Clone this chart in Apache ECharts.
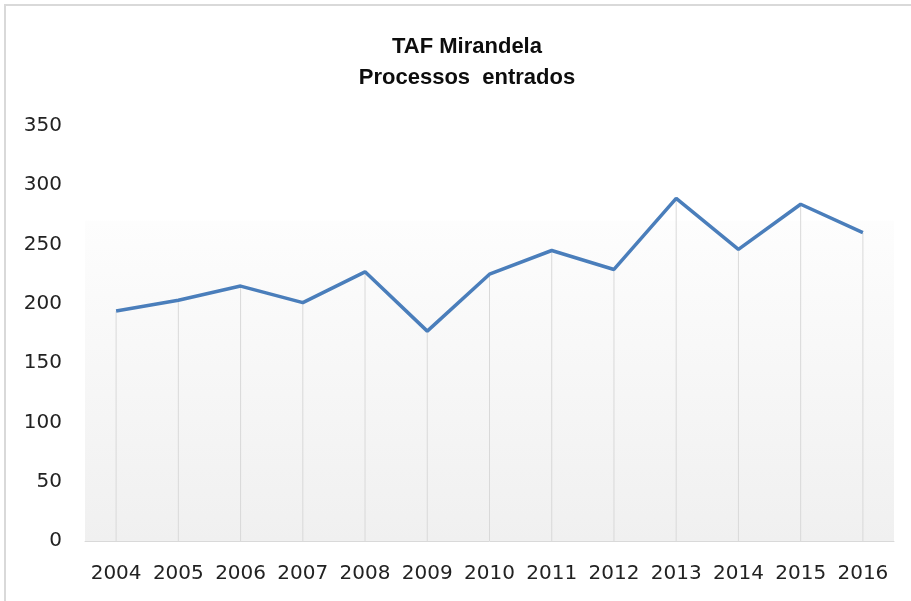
<!DOCTYPE html>
<html>
<head>
<meta charset="utf-8">
<script src="https://cdn.jsdelivr.net/npm/echarts@6/dist/echarts.min.js"></script>
<style>html,body{margin:0;padding:0;background:#fff}#c{width:911px;height:601px}</style>
</head>
<body>
<div id="c"></div>
<script>
var years = ['2004','2005','2006','2007','2008','2009','2010','2011','2012','2013','2014','2015','2016'];
var processos = [194, 203, 215, 201, 227, 177, 225, 245, 229, 289, 246, 284, 260];
var yTicks = [0, 50, 100, 150, 200, 250, 300, 350];
var shadeTop = 270;

var chart = echarts.init(document.getElementById('c'));
chart.setOption({
  backgroundColor: '#ffffff',
  animation: false,
  title: {
    text: 'TAF Mirandela\nProcessos  entrados',
    left: 462,
    textAlign: 'center',
    top: 26,
    textStyle: { fontFamily: 'Liberation Sans', fontWeight: 'bold', fontSize: 22, color: '#0d0d0d', lineHeight: 31 }
  },
  graphic: [{
    type: 'rect', silent: true, z: -1,
    shape: { x: 5, y: 5, width: 920, height: 620 },
    style: { fill: 'none', stroke: '#d9d9d9', lineWidth: 2 }
  }],
  grid: { left: 85, right: 17, top: 126, bottom: 60, containLabel: false },
  xAxis: {
    type: 'category',
    data: years,
    boundaryGap: true,
    axisLine: { show: true, lineStyle: { color: '#d9d9d9', width: 1 } },
    axisTick: { show: false },
    axisLabel: { fontFamily: 'DejaVu Sans', fontSize: 20, color: '#222', margin: 23, interval: 0 }
  },
  yAxis: {
    type: 'value',
    min: yTicks[0], max: yTicks[yTicks.length - 1], interval: 50,
    axisLine: { show: false },
    axisTick: { show: false },
    splitLine: { show: false },
    axisLabel: { fontFamily: 'DejaVu Sans', fontSize: 20, color: '#222', margin: 23 }
  },
  series: [{
    type: 'bar',
    data: processos,
    barWidth: 1,
    itemStyle: { color: '#d9d9d9' },
    silent: true,
    z: 1,
    markArea: {
      silent: true,
      itemStyle: {
        color: { type: 'linear', x: 0, y: 0, x2: 0, y2: 1,
          colorStops: [{ offset: 0, color: '#fdfdfd' }, { offset: 1, color: '#f0f0f0' }] }
      },
      data: [[{ yAxis: 0 }, { yAxis: shadeTop }]]
    }
  }, {
    type: 'line',
    data: processos,
    symbol: 'none',
    lineStyle: { color: '#4a7ebb', width: 3.5 },
    z: 3
  }]
});
</script>
</body>
</html>
